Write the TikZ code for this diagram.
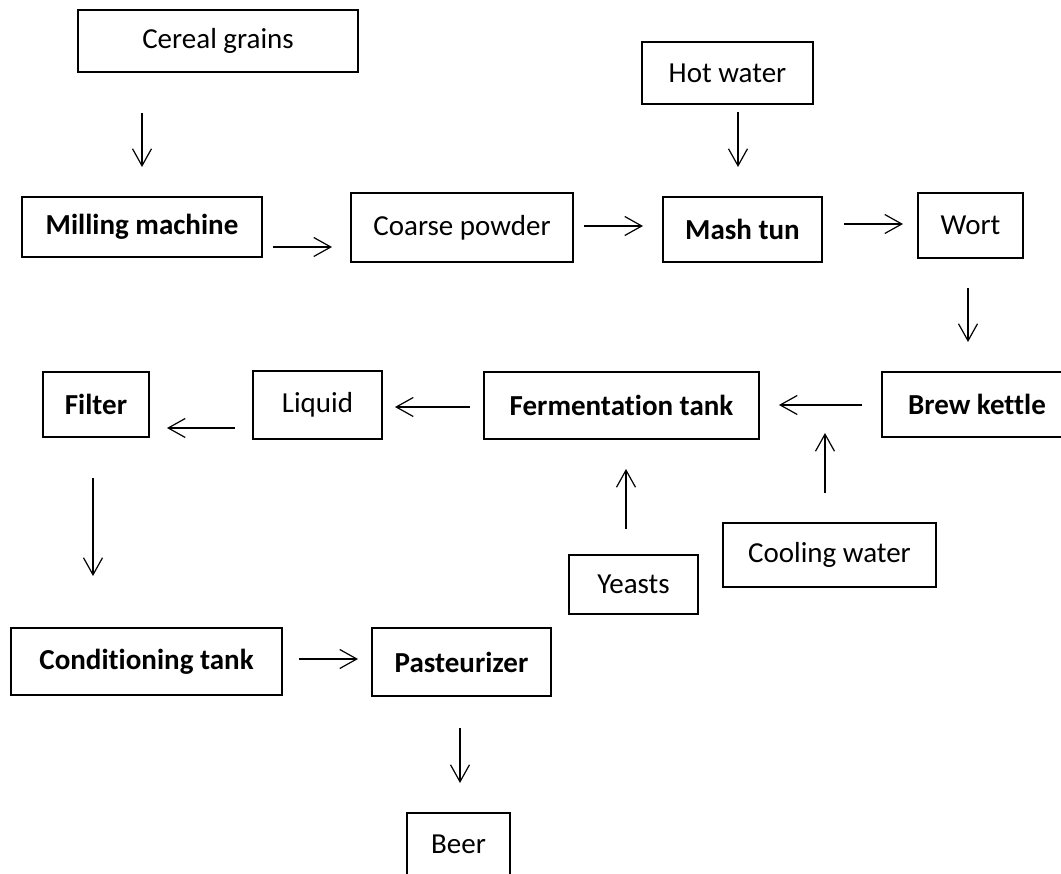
\documentclass[tikz,border=0pt]{standalone}
\usepackage{fontspec}
\setmainfont{Carlito}[Ligatures={NoCommon,NoContextual,NoRare}]
\usetikzlibrary{arrows.meta}
\begin{document}
\begin{tikzpicture}[x=1pt,y=-1pt,
  box/.style={draw, line width=1.8pt, inner sep=0pt, font=\fontsize{29}{34}\selectfont},
  bbox/.style={box, font=\fontsize{29}{34}\selectfont\bfseries},
  arr/.style={line width=1.2pt, -{Straight Barb[length=17pt,width=19pt,line width=1.2pt]}}]
\useasboundingbox (0,0) rectangle (1061,874);
% boxes
\node[box,  minimum width=280pt, minimum height=62pt] (cereal)  at (218,41)     {Cereal grains};
\node[box,  minimum width=171pt, minimum height=62pt] (hot)     at (727.5,73)   {Hot water};
\node[bbox, minimum width=240pt, minimum height=60pt] (mill)    at (142,227)    {Milling machine};
\node[box,  minimum width=222pt, minimum height=69pt] (coarse)  at (462,227.5)  {Coarse powder};
\node[bbox, minimum width=159pt, minimum height=65pt] (mash)    at (742.5,229.5){Mash tun};
\node[box,  minimum width=105pt, minimum height=65pt] (wort)    at (970.5,225.5){Wort};
\node[bbox, minimum width=106pt, minimum height=65pt] (filter)  at (96,404.5)   {Filter};
\node[box,  minimum width=129pt, minimum height=68pt] (liquid)  at (317.5,405)  {Liquid};
\node[bbox, minimum width=275pt, minimum height=67pt] (ferm)    at (621.5,405.5){Fermentat\kern0pt ion tank};
\node[bbox, minimum width=190pt, minimum height=65pt] (brew)    at (977,404.5)  {Brew kettle};
\node[box,  minimum width=129pt, minimum height=59pt] (yeasts)  at (633.5,584.5){Yeasts};
\node[box,  minimum width=213pt, minimum height=64pt] (cooling) at (829.5,555)  {Cooling water};
\node[bbox, minimum width=271pt, minimum height=67pt] (cond)    at (146.5,661.5){Condit\kern0pt ioning tank};
\node[bbox, minimum width=179pt, minimum height=68pt] (past)    at (461.5,662)  {Pasteurizer};
\node[box,  minimum width=103pt, minimum height=63pt] (beer)    at (458.5,844.5){Beer};
% arrow ends
\coordinate (a1s) at (142,113);  \coordinate (a1e) at (142,167);
\coordinate (a2s) at (738,112);  \coordinate (a2e) at (738,167);
\coordinate (a3s) at (273,247);  \coordinate (a3e) at (332,247);
\coordinate (a4s) at (584,226);  \coordinate (a4e) at (643,226);
\coordinate (a5s) at (844,224);  \coordinate (a5e) at (903,224);
\coordinate (a6s) at (968,288);  \coordinate (a6e) at (968,342);
\coordinate (a7s) at (862,405);  \coordinate (a7e) at (779,405);
\coordinate (a8s) at (470,407);  \coordinate (a8e) at (395,407);
\coordinate (a9s) at (235,428);  \coordinate (a9e) at (167,428);
\coordinate (a10s) at (93,478);  \coordinate (a10e) at (93,576);
\coordinate (a11s) at (825,493); \coordinate (a11e) at (825,433);
\coordinate (a12s) at (626,529); \coordinate (a12e) at (626,469);
\coordinate (a13s) at (299,659); \coordinate (a13e) at (358,659);
\coordinate (a14s) at (460,728); \coordinate (a14e) at (460,783);
% connectors
\draw[arr] (a1s) -- (a1e);
\draw[arr] (a2s) -- (a2e);
\draw[arr] (a3s) -- (a3e);
\draw[arr] (a4s) -- (a4e);
\draw[arr] (a5s) -- (a5e);
\draw[arr] (a6s) -- (a6e);
\draw[arr] (a7s) -- (a7e);
\draw[arr] (a8s) -- (a8e);
\draw[arr] (a9s) -- (a9e);
\draw[arr] (a10s) -- (a10e);
\draw[arr] (a11s) -- (a11e);
\draw[arr] (a12s) -- (a12e);
\draw[arr] (a13s) -- (a13e);
\draw[arr] (a14s) -- (a14e);
\end{tikzpicture}
\end{document}
